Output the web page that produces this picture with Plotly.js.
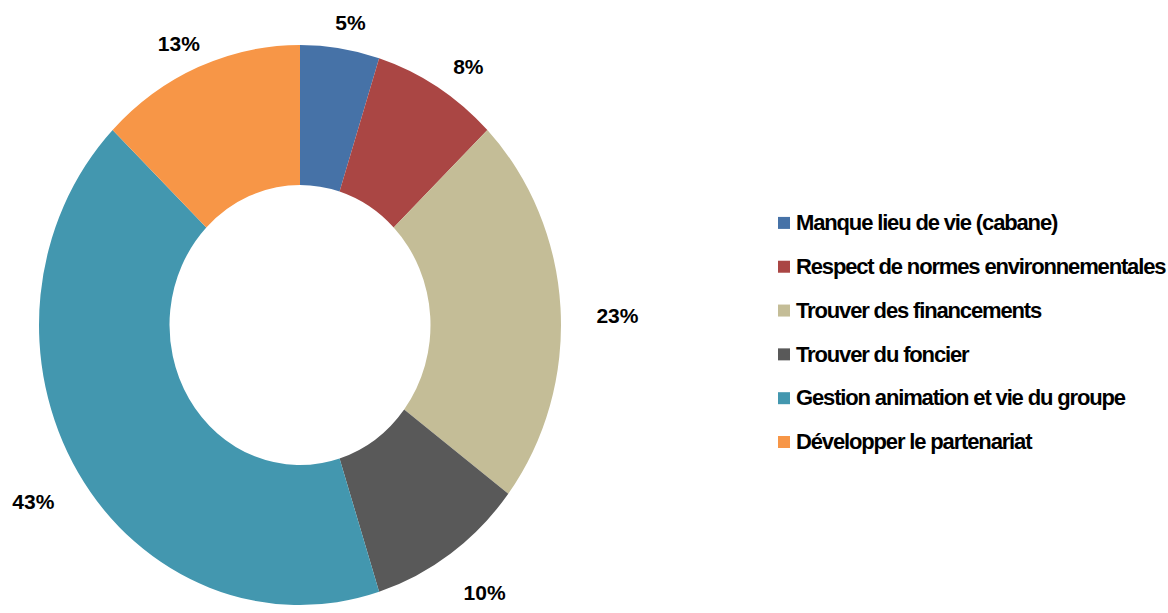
<!DOCTYPE html>
<html>
<head>
<meta charset="utf-8">
<script src="https://cdn.plot.ly/plotly-3.0.1.min.js"></script>
<style>
  html, body { margin: 0; padding: 0; background: #fff; }
  #chart { width: 1168px; height: 613px; }
  .legendtext { font-size: 22px !important; letter-spacing: -1.15px; transform: translate(-8px, -5px); }
  .pielayer { transform-origin: 300px 325px; transform: scaleY(1.073); }
</style>
</head>
<body>
<div id="chart"></div>
<script>
const categories = [
  "Manque lieu de vie (cabane)",
  "Respect de normes environnementales",
  "Trouver des financements",
  "Trouver du foncier",
  "Gestion animation et vie du groupe",
  "Développer le partenariat"
];
const percentValues = [5, 8, 23, 10, 43, 13];
const percentLabels = ["5%", "8%", "23%", "10%", "43%", "13%"];
const sliceColors = ["#4672A7", "#AA4644", "#C4BD97", "#595959", "#4397AF", "#F79647"];

const W = 1168, H = 613;
const labelFont = { family: "Liberation Sans, Arial, sans-serif", size: 21, color: "#000", weight: "bold" };

// label ring geometry (style, in pixel units of the hidden overlay axes)
const LABEL_CX = 302, LABEL_CY = 337, LABEL_R = 316;

// mid-angle of each slice (clockwise from 12 o'clock), derived from the values
const total = percentValues.reduce((a, b) => a + b, 0);
let cum = 0;
const midTheta = percentValues.map(v => { const t = (cum + v / 2) / total * 2 * Math.PI; cum += v; return t; });

const pieTrace = {
  type: "pie",
  labels: categories,
  values: percentValues,
  sort: false,
  direction: "clockwise",
  rotation: 0,
  hole: 0.5,
  marker: { colors: sliceColors, line: { width: 0 } },
  textinfo: "none",
  domain: { x: [39 / W, 561 / W], y: [27 / H, 549 / H] },
  hoverinfo: "label+value"
};

const labelTrace = {
  type: "scatter",
  mode: "text",
  x: midTheta.map(t => LABEL_CX + LABEL_R * Math.sin(t)),
  y: midTheta.map(t => LABEL_CY - LABEL_R * Math.cos(t)),
  text: percentLabels,
  textposition: "middle center",
  textfont: labelFont,
  cliponaxis: false,
  showlegend: false,
  hoverinfo: "skip"
};

const layout = {
  width: W,
  height: H,
  margin: { l: 0, r: 0, t: 0, b: 0, autoexpand: false },
  paper_bgcolor: "#fff",
  plot_bgcolor: "rgba(0,0,0,0)",
  showlegend: true,
  xaxis: { range: [0, W], visible: false, fixedrange: true },
  yaxis: { range: [H, 0], visible: false, fixedrange: true },
  legend: {
    x: 764 / W,
    xanchor: "left",
    y: 1 - 196 / H,
    yanchor: "top",
    font: { family: "Liberation Sans, Arial, sans-serif", size: 31.4, color: "#000", weight: "bold" },
    bgcolor: "rgba(0,0,0,0)",
    itemclick: false
  }
};

Plotly.newPlot("chart", [pieTrace, labelTrace], layout, { displayModeBar: false, staticPlot: true });
</script>
</body>
</html>
